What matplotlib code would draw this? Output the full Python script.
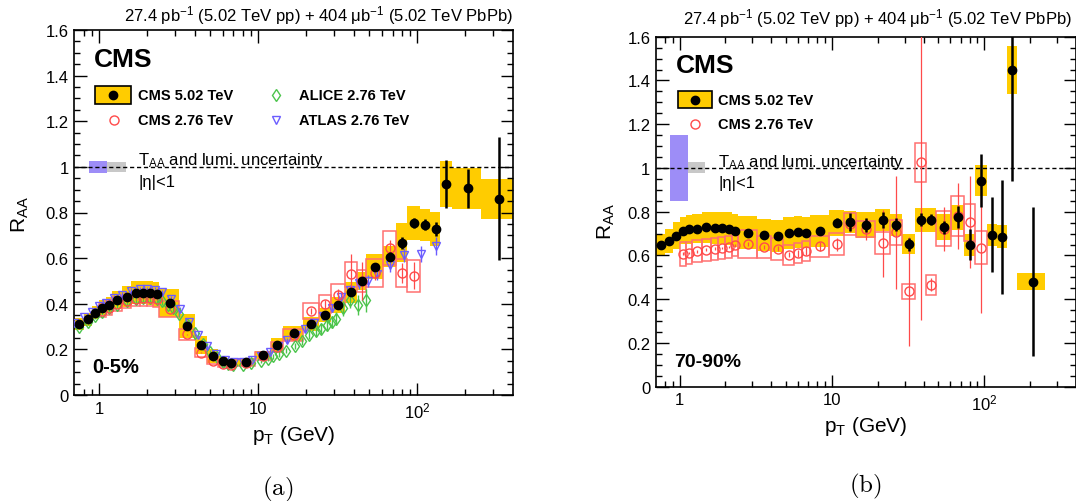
import numpy as np
import matplotlib
matplotlib.use('Agg')
import matplotlib.pyplot as plt
from matplotlib.patches import Rectangle
from matplotlib.ticker import FixedLocator, FuncFormatter, NullFormatter, MultipleLocator

plt.rcParams['font.family'] = ['Liberation Sans', 'DejaVu Sans']
plt.rcParams['mathtext.fontset'] = 'custom'
plt.rcParams['mathtext.rm'] = 'Liberation Sans'
plt.rcParams['mathtext.it'] = 'Liberation Sans:italic'
plt.rcParams['mathtext.bf'] = 'Liberation Sans:bold'

# pT bin edges (GeV)
edges_502 = [0.7, 0.8, 0.9, 1.0, 1.1, 1.2, 1.4, 1.6, 1.8, 2.0, 2.2, 2.4, 3.2, 4.0, 4.8, 5.6, 6.4, 7.2,
             9.6, 12.0, 14.4, 19.2, 24.0, 28.8, 35.2, 41.6, 48.0, 60.8, 73.6, 86.4, 103.6, 120.8,
             140.0, 165.0, 250.0, 400.0]
edges_276 = [1.0, 1.1, 1.2, 1.4, 1.6, 1.8, 2.0, 2.2, 2.4, 3.2, 4.0, 4.8, 5.6, 6.4, 7.2, 9.6, 12.0,
             14.4, 19.2, 24.0, 28.8, 35.2, 41.6, 48.0, 60.8, 73.6, 86.4, 103.6]

# 0-5% : CMS 5.02 TeV
raa502_c = [0.31, 0.332, 0.361, 0.383, 0.393, 0.417, 0.431, 0.449, 0.449, 0.446, 0.441, 0.402, 0.302,
            0.219, 0.171, 0.149, 0.139, 0.144, 0.175, 0.219, 0.270, 0.311, 0.351, 0.395, 0.450, 0.501,
            0.563, 0.607, 0.667, 0.754, 0.747, 0.728, 0.925, 0.906, 0.86]
stat502_c = [0.002, 0.002, 0.002, 0.002, 0.002, 0.002, 0.002, 0.002, 0.002, 0.002, 0.002, 0.002, 0.002,
             0.002, 0.002, 0.002, 0.002, 0.002, 0.003, 0.003, 0.004, 0.005, 0.006, 0.008, 0.010, 0.012,
             0.015, 0.018, 0.025, 0.02, 0.023, 0.03, 0.105, 0.085, 0.27]
sys502_c = [0.026, 0.028, 0.03, 0.033, 0.035, 0.04, 0.045, 0.05, 0.052, 0.053, 0.054, 0.062, 0.053,
            0.04, 0.03, 0.022, 0.02, 0.018, 0.018, 0.03, 0.033, 0.03, 0.03, 0.036, 0.045, 0.04, 0.055,
            0.045, 0.085, 0.075, 0.07, 0.075, 0.1, 0.09, 0.088]

# 0-5% : CMS 2.76 TeV
raa276_c = [0.37, 0.38, 0.40, 0.41, 0.42, 0.425, 0.425, 0.42, 0.375, 0.266, 0.185, 0.15, 0.135, 0.133,
            0.142, 0.17, 0.21, 0.262, 0.368, 0.398, 0.44, 0.53, 0.50, 0.535, 0.643, 0.535, 0.523]
stat276_c = [0.002, 0.002, 0.002, 0.002, 0.002, 0.002, 0.002, 0.002, 0.002, 0.002, 0.002, 0.003, 0.003,
             0.003, 0.003, 0.004, 0.006, 0.01, 0.015, 0.02, 0.025, 0.087, 0.085, 0.03, 0.036, 0.045, 0.06]
sys276_c = [0.03, 0.03, 0.03, 0.03, 0.032, 0.033, 0.033, 0.033, 0.035, 0.025, 0.02, 0.016, 0.014, 0.014,
            0.015, 0.018, 0.022, 0.027, 0.035, 0.04, 0.045, 0.055, 0.05, 0.06, 0.075, 0.06, 0.07]

# 0-5% : ALICE 2.76 TeV
alice_pt = [0.75, 0.85, 0.95, 1.05, 1.15, 1.3, 1.5, 1.7, 1.9, 2.1, 2.3, 2.5, 2.7, 2.9, 3.2, 3.6, 4.0,
            4.5, 5.0, 5.5, 6.0, 6.5, 7.0, 8.0, 9.0, 10.5, 11.5, 12.5, 13.5, 15.0, 17.0, 19.0, 21.0,
            23.0, 25.0, 27.0, 29.0, 31.0, 34.0, 38.0, 42.5, 47.5]
alice_raa = [0.30, 0.32, 0.345, 0.365, 0.38, 0.395, 0.41, 0.42, 0.425, 0.425, 0.42, 0.41, 0.395, 0.38,
             0.355, 0.31, 0.27, 0.225, 0.19, 0.165, 0.145, 0.135, 0.13, 0.13, 0.14, 0.15, 0.16, 0.17,
             0.18, 0.195, 0.215, 0.235, 0.265, 0.28, 0.29, 0.305, 0.32, 0.335, 0.38, 0.415, 0.395, 0.415]
alice_err = [0.012, 0.012, 0.013, 0.014, 0.014, 0.015, 0.015, 0.016, 0.016, 0.016, 0.016, 0.016, 0.015,
             0.015, 0.014, 0.013, 0.012, 0.01, 0.009, 0.008, 0.008, 0.007, 0.007, 0.007, 0.008, 0.009,
             0.01, 0.011, 0.012, 0.013, 0.014, 0.016, 0.018, 0.02, 0.022, 0.025, 0.027, 0.03, 0.032,
             0.035, 0.045, 0.05]

# 0-5% : ATLAS 2.76 TeV
atlas_pt = [0.7, 0.8, 0.9, 1.0, 1.1, 1.25, 1.4, 1.6, 1.8, 2.0, 2.25, 2.5, 2.85, 3.25, 3.7, 4.2, 4.8,
            5.45, 6.2, 7.05, 8.0, 9.1, 10.4, 11.8, 13.4, 15.3, 17.4, 19.8, 22.5, 25.6, 29.1, 33.1,
            37.7, 42.9, 48.8, 55.6, 67.1, 83.0, 105.0, 132.0]
atlas_raa = [0.317, 0.34, 0.365, 0.39, 0.405, 0.425, 0.44, 0.455, 0.463, 0.463, 0.462, 0.45, 0.42,
             0.375, 0.32, 0.265, 0.215, 0.18, 0.155, 0.145, 0.145, 0.155, 0.17, 0.19, 0.215, 0.24,
             0.265, 0.29, 0.315, 0.345, 0.38, 0.43, 0.46, 0.49, 0.5, 0.53, 0.57, 0.615, 0.618, 0.652]
atlas_err = [0.01, 0.01, 0.01, 0.01, 0.01, 0.012, 0.012, 0.012, 0.012, 0.012, 0.012, 0.012, 0.012,
             0.012, 0.01, 0.01, 0.01, 0.008, 0.008, 0.008, 0.008, 0.008, 0.009, 0.01, 0.011, 0.012,
             0.013, 0.014, 0.015, 0.016, 0.018, 0.02, 0.022, 0.024, 0.026, 0.028, 0.03, 0.03, 0.035, 0.04]

# 70-90% : CMS 5.02 TeV
raa502_p = [0.646, 0.666, 0.691, 0.714, 0.719, 0.722, 0.729, 0.726, 0.726, 0.722, 0.714, 0.704, 0.695,
            0.688, 0.702, 0.707, 0.704, 0.711, 0.749, 0.754, 0.739, 0.762, 0.741, 0.652, 0.763, 0.763,
            0.729, 0.774, 0.649, 0.942, 0.695, 0.686, 1.449, 0.480]
stat502_p = [0.004, 0.004, 0.004, 0.004, 0.004, 0.004, 0.004, 0.004, 0.004, 0.004, 0.004, 0.004, 0.004,
             0.004, 0.004, 0.004, 0.004, 0.004, 0.02, 0.04, 0.03, 0.035, 0.03, 0.03, 0.03, 0.025, 0.03,
             0.05, 0.07, 0.12, 0.17, 0.26, 0.51, 0.34]
sys502_p = [0.05, 0.055, 0.06, 0.062, 0.065, 0.067, 0.07, 0.072, 0.074, 0.075, 0.075, 0.075, 0.073,
            0.072, 0.072, 0.072, 0.072, 0.072, 0.06, 0.05, 0.06, 0.05, 0.05, 0.045, 0.055, 0.055, 0.06,
            0.057, 0.05, 0.07, 0.05, 0.053, 0.11, 0.038]

# 70-90% : CMS 2.76 TeV
raa276_p = [0.608, 0.612, 0.619, 0.626, 0.631, 0.634, 0.638, 0.646, 0.653, 0.638, 0.631, 0.603, 0.61,
            0.619, 0.641, 0.652, 0.745, 0.721, 0.655, 0.705, 0.436, 1.026, 0.466, 0.721, 0.78, 0.751, 0.635]
stat276_p = [0.006, 0.006, 0.006, 0.006, 0.006, 0.006, 0.006, 0.006, 0.008, 0.01, 0.01, 0.012, 0.015,
             0.018, 0.02, 0.03, 0.04, 0.05, 0.155, 0.26, 0.25, 0.72, 0.03, 0.1, 0.15, 0.21, 0.3]
sys276_p = [0.055, 0.05, 0.05, 0.05, 0.05, 0.05, 0.05, 0.05, 0.065, 0.05, 0.05, 0.045, 0.045, 0.045,
            0.05, 0.05, 0.05, 0.035, 0.05, 0.055, 0.035, 0.09, 0.045, 0.08, 0.09, 0.085, 0.075]

# T_AA (purple) and lumi (grey) uncertainties
taa_unc = [0.026, 0.15]
lumi_unc = [0.021, 0.025]

YEL = '#ffcc00'
RED = '#ff4a4a'
RED_BOX = '#ff7070'
GREEN = '#4cc44c'
BLUE = '#6b5cff'
LUMI_TEXT = r'T$_{\mathrm{AA}}$ and lumi. uncertainty'
TITLE = r'27.4 pb$^{-1}$ (5.02 TeV pp) + 404 μb$^{-1}$ (5.02 TeV PbPb)'


def bins(edges, n):
    lo = np.array(edges[:n])
    hi = np.array(edges[1:n + 1])
    return lo, hi, (lo + hi) / 2


def style_axes(ax):
    ax.set_xscale('log')
    ax.set_xlim(0.7, 400)
    ax.set_ylim(0, 1.6)
    ax.xaxis.set_major_locator(FixedLocator([1, 10, 100]))
    ax.xaxis.set_minor_locator(FixedLocator([0.8, 0.9] + list(range(2, 10)) +
                                            list(range(20, 100, 10)) + [200, 300]))
    ax.xaxis.set_major_formatter(FuncFormatter(
        lambda v, _: '1' if v < 5 else ('10' if v < 50 else r'10$^{2}$')))
    ax.xaxis.set_minor_formatter(NullFormatter())
    ax.yaxis.set_major_locator(MultipleLocator(0.2))
    ax.yaxis.set_minor_locator(MultipleLocator(0.05))
    ax.yaxis.set_major_formatter(FuncFormatter(lambda v, _: '%g' % round(v, 2)))
    ax.tick_params(which='both', direction='in', top=True, right=True, labelsize=12, width=1)
    ax.tick_params(which='major', length=9, pad=4)
    ax.tick_params(which='minor', length=4.5)
    for s in ax.spines.values():
        s.set_linewidth(1.2)
    ax.axhline(1, color='black', ls=(0, (3, 2)), lw=1.0, zorder=2)


def draw_cms(ax, raa502, stat502, sys502, raa276, stat276, sys276):
    lo, hi, pt = bins(edges_502, len(raa502))
    r, st, sy = np.array(raa502), np.array(stat502), np.array(sys502)
    ax.bar(lo, 2 * sy, width=hi - lo, bottom=r - sy, align='edge', color=YEL, lw=0, zorder=1)

    lo2, hi2, pt2 = bins(edges_276, len(raa276))
    r2, st2, sy2 = np.array(raa276), np.array(stat276), np.array(sys276)
    ax.bar(lo2, 2 * sy2, width=hi2 - lo2, bottom=r2 - sy2, align='edge', facecolor='none',
           edgecolor=RED_BOX, lw=1.1, zorder=3)
    ax.errorbar(pt2, r2, yerr=st2, fmt='o', ms=6.5, mfc='none', mec=RED, mew=1.0,
                ecolor=RED, elinewidth=0.9, capsize=0, zorder=5)

    ax.errorbar(pt, r, yerr=st, fmt='o', ms=6, color='black', elinewidth=1.8, capsize=0, zorder=6)


def draw_unc(ax, i):
    ax.bar(0.87, 2 * taa_unc[i], width=1.13 - 0.87, bottom=1 - taa_unc[i], align='edge',
           color='#9d8df7', lw=0, zorder=1)
    ax.bar(1.13, 2 * lumi_unc[i], width=1.47 - 1.13, bottom=1 - lumi_unc[i], align='edge',
           color='#c8c8c8', lw=0, zorder=1)


def legend_entry(ax, x, y, w, h, kind, label, tx):
    if kind == 'box':
        ax.add_patch(Rectangle((x - w / 2, y - h / 2), w, h, transform=ax.transAxes,
                               facecolor=YEL, edgecolor='black', lw=1.2, zorder=7))
        ax.plot([x], [y], 'o', color='black', ms=6, transform=ax.transAxes, zorder=8)
    elif kind == 'circle':
        ax.plot([x], [y], 'o', ms=6.5, mfc='none', mec=RED, mew=1.0, transform=ax.transAxes)
    elif kind == 'diamond':
        ax.plot([x], [y], 'd', ms=6, mfc='none', mec=GREEN, mew=1.0, transform=ax.transAxes)
    else:
        ax.plot([x], [y], 'v', ms=6, mfc='none', mec=BLUE, mew=1.0, transform=ax.transAxes)
    ax.text(tx, y, label, transform=ax.transAxes, fontsize=10.5, fontweight='bold', va='center')


fig = plt.figure(figsize=(10.76, 5.02), dpi=100)

# (a) 0-5%
ax1 = fig.add_axes([74.3 / 1076, 1 - 396 / 502, 438.7 / 1076, 365 / 502])
style_axes(ax1)
draw_unc(ax1, 0)
ax1.errorbar(alice_pt, alice_raa, yerr=alice_err, fmt='d', ms=6, mfc='none', mec=GREEN, mew=1.0,
             ecolor=GREEN, elinewidth=1.0, capsize=0, zorder=4)
ax1.errorbar(atlas_pt, atlas_raa, yerr=atlas_err, fmt='v', ms=6, mfc='none', mec=BLUE, mew=1.0,
             ecolor=BLUE, elinewidth=1.0, capsize=0, zorder=4)
draw_cms(ax1, raa502_c, stat502_c, sys502_c, raa276_c, stat276_c, sys276_c)

ax1.text(0.045, 0.902, 'CMS', transform=ax1.transAxes, fontsize=19, fontweight='bold')
legend_entry(ax1, 0.089, 0.822, 0.082, 0.047, 'box', 'CMS 5.02 TeV', 0.146)
legend_entry(ax1, 0.091, 0.753, 0, 0, 'circle', 'CMS 2.76 TeV', 0.146)
legend_entry(ax1, 0.459, 0.822, 0, 0, 'diamond', 'ALICE 2.76 TeV', 0.513)
legend_entry(ax1, 0.459, 0.753, 0, 0, 'triangle', 'ATLAS 2.76 TeV', 0.513)
ax1.text(0.146, 0.632, LUMI_TEXT, transform=ax1.transAxes, fontsize=12)
ax1.text(0.146, 0.573, '|η|<1', transform=ax1.transAxes, fontsize=12)
ax1.text(0.04, 0.062, '0-5%', transform=ax1.transAxes, fontsize=14.5, fontweight='bold')
ax1.text(1.0, 1.027, TITLE, transform=ax1.transAxes, fontsize=12, ha='right', va='baseline')

# (b) 70-90%
ax2 = fig.add_axes([656 / 1076, 1 - 387.7 / 502, 420 / 1076, 350 / 502])
style_axes(ax2)
draw_unc(ax2, 1)
draw_cms(ax2, raa502_p, stat502_p, sys502_p, raa276_p, stat276_p, sys276_p)

ax2.text(0.047, 0.898, 'CMS', transform=ax2.transAxes, fontsize=19, fontweight='bold')
legend_entry(ax2, 0.094, 0.82, 0.081, 0.049, 'box', 'CMS 5.02 TeV', 0.148)
legend_entry(ax2, 0.094, 0.75, 0, 0, 'circle', 'CMS 2.76 TeV', 0.148)
ax2.text(0.148, 0.63, LUMI_TEXT, transform=ax2.transAxes, fontsize=12)
ax2.text(0.148, 0.571, '|η|<1', transform=ax2.transAxes, fontsize=12)
ax2.text(0.043, 0.06, '70-90%', transform=ax2.transAxes, fontsize=14, fontweight='bold')
ax2.text(0.99, 1.039, TITLE, transform=ax2.transAxes, fontsize=12, ha='right', va='baseline')

# axis titles
for x, y in [(20, 215), (606, 222)]:
    fig.text(x / 1076, 1 - y / 502, r'R$_{\mathrm{AA}}$', rotation=90, fontsize=15,
             ha='center', va='center')
for x, y in [(293.6, 441), (866, 432)]:
    fig.text(x / 1076, 1 - y / 502, r'p$_{\mathrm{T}}$ (GeV)', fontsize=15, ha='center', va='baseline')

# sub-figure captions
fig.text(278 / 1076, 1 - 489 / 502, r'$\mathrm{(a)}$', fontsize=18, ha='center', va='center',
         math_fontfamily='cm')
fig.text(865 / 1076, 1 - 486 / 502, r'$\mathrm{(b)}$', fontsize=18, ha='center', va='center',
         math_fontfamily='cm')

fig.savefig('out.png', dpi=100)
